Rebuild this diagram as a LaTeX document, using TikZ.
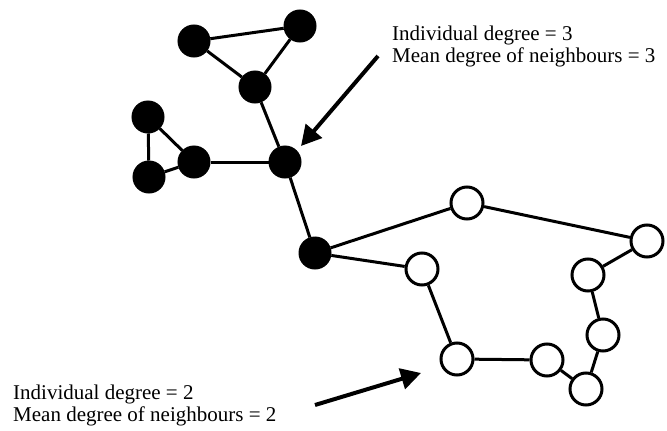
\documentclass[tikz,border=0pt]{standalone}
\usepackage{fontspec}
\setmainfont{Liberation Serif}
\usetikzlibrary{arrows.meta}
\begin{document}
\begin{tikzpicture}[x=1pt,y=-1pt,
  bnode/.style={circle,fill=black,draw=black,line width=1pt,minimum size=32pt,inner sep=0pt},
  wnode/.style={circle,fill=white,draw=black,line width=3pt,minimum size=32pt,inner sep=0pt},
  edge/.style={line width=3pt},
  pointer/.style={line width=4pt,-{Triangle[length=20pt,width=21pt]}},
  lbl/.style={anchor=base west,inner sep=0pt,font=\fontsize{21}{22}\selectfont}]
\useasboundingbox (0,0) rectangle (667,431);
% black nodes
\node[bnode] (A) at (194,41) {};
\node[bnode] (B) at (300,26) {};
\node[bnode] (C) at (255,87) {};
\node[bnode] (D) at (148,117) {};
\node[bnode] (E) at (194,162) {};
\node[bnode] (F) at (149,177) {};
\node[bnode] (G) at (285,162) {};
\node[bnode] (H) at (315,253) {};
% white nodes
\node[wnode] (I) at (467,203) {};
\node[wnode] (J) at (647,241) {};
\node[wnode] (K) at (422,269) {};
\node[wnode] (L) at (588,275) {};
\node[wnode] (M) at (603,335) {};
\node[wnode] (N) at (457,359) {};
\node[wnode] (O) at (547,360) {};
\node[wnode] (P) at (586,389) {};
% edges
\draw[edge] (A) -- (B);
\draw[edge] (A) -- (C);
\draw[edge] (B) -- (C);
\draw[edge] (C) -- (G);
\draw[edge] (D) -- (E);
\draw[edge] (D) -- (F);
\draw[edge] (F) -- (E);
\draw[edge] (E) -- (G);
\draw[edge] (G) -- (H);
\draw[edge] (H) -- (I);
\draw[edge] (H) -- (K);
\draw[edge] (I) -- (J);
\draw[edge] (J) -- (L);
\draw[edge] (L) -- (M);
\draw[edge] (M) -- (P);
\draw[edge] (P) -- (O);
\draw[edge] (O) -- (N);
\draw[edge] (N) -- (K);
% labels
\node[lbl] (t1) at (392,40) {Individual degree = 3};
\node[lbl] (t2) at (392,62) {Mean degree of neighbours = 3};
\node[lbl] (b1) at (13,399) {Individual degree = 2};
\node[lbl] (b2) at (13,421) {Mean degree of neighbours = 2};
% arrows
\coordinate (ta) at (378,56);
\coordinate (th) at (301,146);
\coordinate (ba) at (315,405);
\coordinate (bh) at (421,373);
\draw[pointer] (ta) -- (th);
\draw[pointer] (ba) -- (bh);
\end{tikzpicture}
\end{document}
